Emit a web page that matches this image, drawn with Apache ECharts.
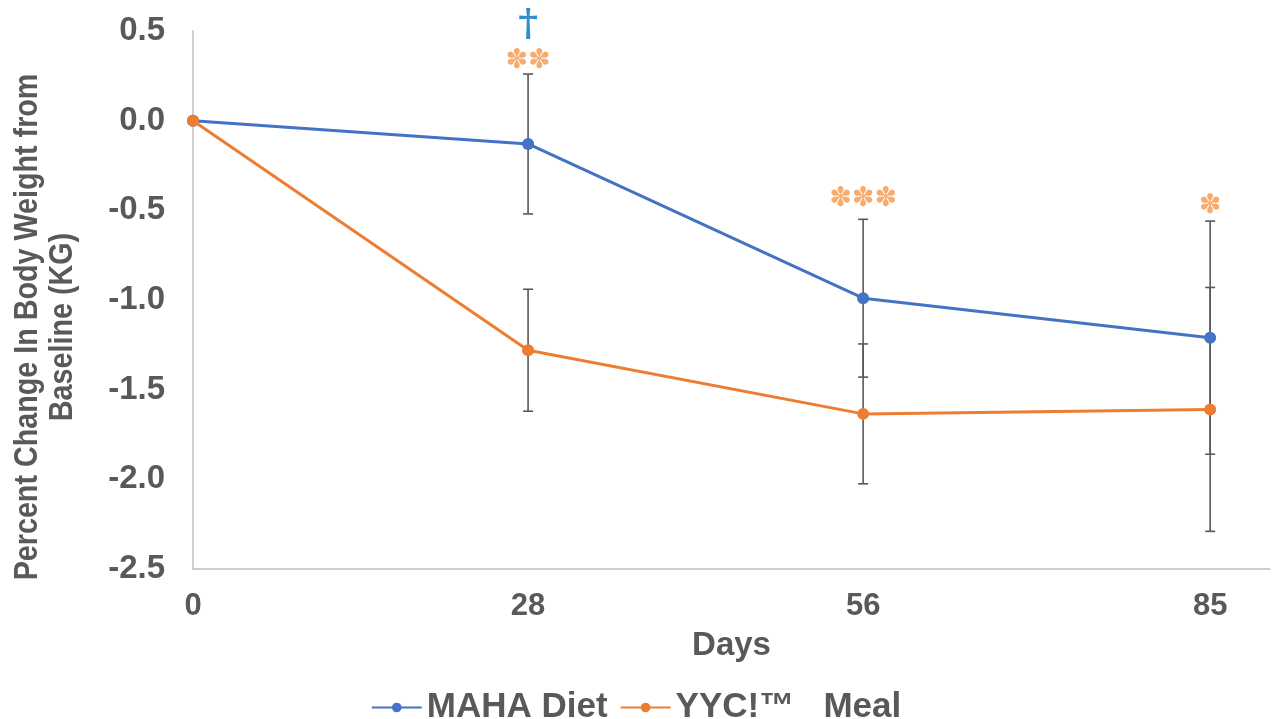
<!DOCTYPE html>
<html>
<head>
<meta charset="utf-8">
<script src="https://cdn.jsdelivr.net/npm/echarts@6/dist/echarts.min.js"></script>
<style>
  html, body { margin: 0; padding: 0; background: #fff; }
  #chart { width: 1272px; height: 719px; }
</style>
</head>
<body>
<div id="chart"></div>
<script>
// days of measurement
var days = [0, 28, 56, 85];
var dayLabels = [0, 28, 56, 85];

// mean change from baseline
var mahaDiet = [0, -0.13, -0.99, -1.21];
var yycMeal = [0, -1.28, -1.635, -1.61];

// error bar half-lengths
var mahaErr = [0, 0.39, 0.44, 0.65];
var yycErr = [0, 0.34, 0.39, 0.68];

// significance marks above the points
var markDays = [28, 28, 56, 85];
var markValues = [0.53, 0.335, -0.435, -0.475];
var markTexts = ['†', '✽✽', '✽✽✽', '✽'];
var markColors = ['#0070C0', '#F79646', '#F79646', '#F79646'];

var textColor = '#595959';
var fontFamily = '"Liberation Sans", Arial, sans-serif';

function pairs(xs, ys) {
  return xs.map(function (x, i) { return [x, ys[i]]; });
}

function errorData(ys, errs) {
  return days.map(function (d, i) { return [d, ys[i], errs[i]]; });
}

function renderErrorBar(params, api) {
  var x = api.value(0), y = api.value(1), e = api.value(2);
  if (!e) return null;
  var top = api.coord([x, y + e]);
  var bot = api.coord([x, y - e]);
  var w = 5;
  var style = { stroke: '#595959', lineWidth: 1.6 };
  return {
    type: 'group',
    children: [
      { type: 'line', shape: { x1: top[0], y1: top[1], x2: bot[0], y2: bot[1] }, style: style },
      { type: 'line', shape: { x1: top[0] - w, y1: top[1], x2: top[0] + w, y2: top[1] }, style: style },
      { type: 'line', shape: { x1: bot[0] - w, y1: bot[1], x2: bot[0] + w, y2: bot[1] }, style: style }
    ]
  };
}

var chart = echarts.init(document.getElementById('chart'));

var option = {
  animation: false,
  grid: { left: 193, right: 2, top: 31, bottom: 150, outerBoundsMode: 'none' },
  legend: {
    data: ['MAHA Diet', 'YYC!™   Meal'],
    top: 685,
    left: 'center',
    itemWidth: 50,
    itemHeight: 12,
    itemGap: 12,
    textStyle: { color: textColor, fontSize: 35, fontWeight: 'bold', fontFamily: fontFamily }
  },
  xAxis: {
    type: 'value',
    min: 0,
    max: 90,
    name: 'Days',
    nameLocation: 'middle',
    nameGap: 60,
    nameTextStyle: { color: textColor, fontSize: 33, fontWeight: 'bold', fontFamily: fontFamily },
    axisLine: { show: true, onZero: false, lineStyle: { color: '#BFBFBF', width: 1.5 } },
    axisTick: { show: false },
    splitLine: { show: false },
    axisLabel: {
      customValues: dayLabels,
      margin: 22,
      color: textColor,
      fontSize: 31,
      fontWeight: 'bold',
      fontFamily: fontFamily
    }
  },
  yAxis: {
    type: 'value',
    min: -2.5,
    max: 0.5,
    interval: 0.5,
    axisLine: { show: true, onZero: false, lineStyle: { color: '#BFBFBF', width: 1.5 } },
    axisTick: { show: false },
    splitLine: { show: false },
    axisLabel: {
      margin: 28,
      color: textColor,
      fontSize: 33,
      fontWeight: 'bold',
      fontFamily: fontFamily,
      formatter: function (v) { return v.toFixed(1); }
    }
  },
  graphic: [{
    type: 'text',
    x: 45,
    y: 327,
    rotation: Math.PI / 2,
    scaleX: 0.87,
    style: {
      text: 'Percent Change In Body Weight from\nBaseline (KG)',
      align: 'center',
      verticalAlign: 'middle',
      fill: textColor,
      font: 'bold 33px "Liberation Sans", Arial, sans-serif',
      lineHeight: 35
    }
  }],
  series: [
    {
      name: 'err-maha',
      type: 'custom',
      renderItem: renderErrorBar,
      data: errorData(mahaDiet, mahaErr),
      z: 1,
      silent: true
    },
    {
      name: 'err-yyc',
      type: 'custom',
      renderItem: renderErrorBar,
      data: errorData(yycMeal, yycErr),
      z: 1,
      silent: true
    },
    {
      name: 'MAHA Diet',
      type: 'line',
      data: pairs(days, mahaDiet),
      symbol: 'circle',
      symbolSize: 12,
      lineStyle: { color: '#4472C4', width: 3 },
      itemStyle: { color: '#4472C4' },
      z: 3
    },
    {
      name: 'YYC!™   Meal',
      type: 'line',
      data: pairs(days, yycMeal),
      symbol: 'circle',
      symbolSize: 12,
      lineStyle: { color: '#ED7D31', width: 3 },
      itemStyle: { color: '#ED7D31' },
      z: 4
    },
    {
      name: 'marks',
      type: 'scatter',
      symbolSize: 1,
      clip: false,
      itemStyle: { color: 'rgba(0,0,0,0)' },
      silent: true,
      z: 5,
      data: markDays.map(function (d, i) {
        return {
          value: [d, markValues[i]],
          label: {
            show: true,
            position: 'inside',
            formatter: markTexts[i],
            color: markColors[i],
            fontSize: i === 0 ? 38 : 27,
            fontWeight: 'bold',
            fontFamily: i === 0 ? '"DejaVu Serif", serif' : '"DejaVu Sans", sans-serif'
          }
        };
      })
    }
  ]
};

chart.setOption(option);
</script>
</body>
</html>
